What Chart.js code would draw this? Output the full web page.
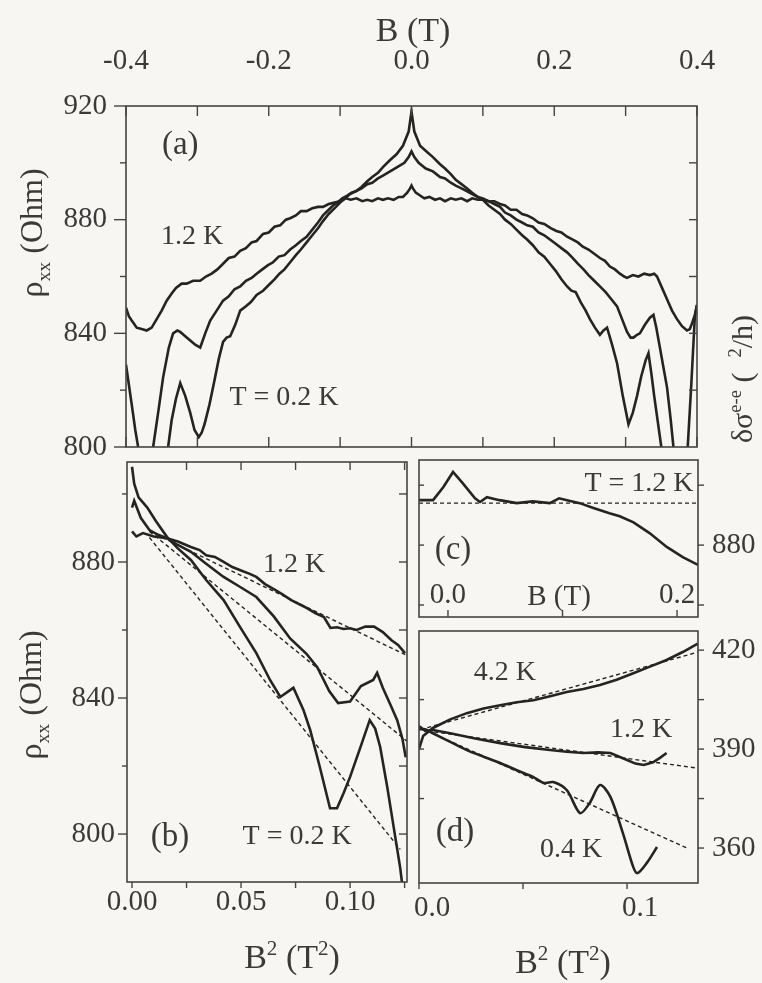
<!DOCTYPE html>
<html>
<head>
<meta charset="utf-8">
<script src="https://cdn.jsdelivr.net/npm/chart.js@4.4.0/dist/chart.umd.min.js"></script>
<style>
  html, body { margin: 0; padding: 0; background: #f7f6f2; }
  #fig { position: relative; width: 762px; height: 983px; }
  #fig canvas { position: absolute; left: 0; top: 0; }
</style>
</head>
<body>
<div id="fig">
  <canvas id="panelA" width="762" height="983"></canvas>
  <canvas id="panelB" width="762" height="983"></canvas>
  <canvas id="panelC" width="762" height="983"></canvas>
  <canvas id="panelD" width="762" height="983"></canvas>
</div>
<script>
// (a) rho_xx (Ohm) against B (T)
const bA12 = [-0.400,-0.396,-0.392,-0.385,-0.378,-0.371,-0.364,-0.357,-0.350,-0.343,-0.336,-0.330,-0.322,-0.315,-0.306,-0.296,-0.288,-0.280,-0.272,-0.264,-0.256,-0.248,-0.240,-0.232,-0.224,-0.217,-0.208,-0.200,-0.192,-0.184,-0.176,-0.170,-0.162,-0.155,-0.147,-0.139,-0.131,-0.124,-0.116,-0.108,-0.100,-0.092,-0.085,-0.077,-0.069,-0.062,-0.055,-0.047,-0.040,-0.033,-0.025,-0.018,-0.012,-0.006,-0.002,0.000,0.002,0.006,0.012,0.018,0.025,0.033,0.040,0.047,0.055,0.062,0.070,0.078,0.085,0.093,0.100,0.108,0.116,0.124,0.131,0.139,0.147,0.155,0.162,0.170,0.178,0.186,0.195,0.203,0.210,0.218,0.226,0.233,0.240,0.248,0.256,0.264,0.271,0.278,0.285,0.292,0.298,0.302,0.310,0.318,0.326,0.334,0.340,0.344,0.351,0.358,0.365,0.372,0.379,0.386,0.390,0.393,0.397,0.400];
const rhoA12 = [849,846,844.5,842,841.5,841,842,845,848,851.5,854,856,857.5,857.5,858.5,858.5,860,861,862.5,864.5,866.5,867,869,870,872,872.5,875,875.5,877.5,878,880,880.5,881.5,883,883,884,884.5,884.5,885.5,886,886.5,887.5,887,887.5,886.5,887,886.5,887.5,887,887.5,887,888,888,889.5,891,892,891,889.5,888.5,887.5,888,887,887.5,886.5,887.5,887,887.5,886.5,887.5,887,887,886.5,886.5,885.5,885,883.5,883.5,882,881.5,880.5,879,878.5,877,876,875.5,874,873,872,870.5,869.5,868,866.5,865.5,863.5,862.5,861,860,859.5,860.5,860,861,860.5,861,860,856,852,848,845,842.5,841,841.5,843.5,846.5,850];
const bA04 = [-0.400,-0.396,-0.392,-0.387,-0.383,-0.375,-0.362,-0.355,-0.348,-0.340,-0.334,-0.328,-0.324,-0.317,-0.310,-0.303,-0.296,-0.289,-0.282,-0.273,-0.264,-0.256,-0.248,-0.240,-0.232,-0.224,-0.217,-0.209,-0.201,-0.194,-0.186,-0.178,-0.170,-0.162,-0.155,-0.147,-0.139,-0.131,-0.124,-0.116,-0.110,-0.104,-0.097,-0.090,-0.084,-0.078,-0.070,-0.062,-0.055,-0.047,-0.040,-0.030,-0.020,-0.010,-0.004,0.000,0.004,0.010,0.020,0.030,0.040,0.047,0.055,0.062,0.070,0.078,0.085,0.093,0.100,0.108,0.116,0.124,0.131,0.139,0.147,0.155,0.162,0.170,0.178,0.186,0.194,0.202,0.210,0.218,0.226,0.233,0.241,0.248,0.256,0.264,0.272,0.280,0.288,0.295,0.302,0.307,0.311,0.316,0.320,0.327,0.334,0.339,0.343,0.348,0.353,0.358,0.363,0.367,0.377,0.387,0.392,0.397,0.400];
const rhoA04 = [829,822,815,806,800,790,800,812,824.5,835,840,841,840.5,839,837.5,836,835,840,844.5,848,851.5,853,855.5,856.5,858.5,859.5,861,862.5,864,865,867,867.5,869.5,871,872.5,874,876.5,879,881.5,883.5,885,886,887.5,888.5,889.5,890,891,892.5,893,894.5,895.5,897,898.5,900,902,904,902,900,898,897,895,894.5,893,892,891,890,889,888,887.5,886.5,885.5,884.5,882.5,881.5,880,879,878,877.5,875.5,874.5,873,871.5,870,868.5,866.5,864.5,862.5,860.5,858.5,856.5,854.5,852,849.5,845,840.5,838.5,838.5,839.5,840,843,845.5,846.5,842,835,828,821,810,800,788,800,822,846,850];
const bA02 = [-0.400,-0.370,-0.350,-0.341,-0.336,-0.330,-0.324,-0.317,-0.310,-0.304,-0.298,-0.294,-0.290,-0.283,-0.276,-0.270,-0.264,-0.259,-0.254,-0.247,-0.240,-0.232,-0.225,-0.217,-0.208,-0.200,-0.192,-0.185,-0.178,-0.170,-0.162,-0.155,-0.147,-0.139,-0.131,-0.124,-0.116,-0.108,-0.100,-0.093,-0.086,-0.078,-0.070,-0.062,-0.055,-0.047,-0.040,-0.030,-0.021,-0.012,-0.004,0.000,0.004,0.012,0.021,0.030,0.040,0.047,0.055,0.062,0.070,0.078,0.085,0.093,0.100,0.108,0.116,0.124,0.131,0.139,0.147,0.155,0.162,0.170,0.178,0.186,0.194,0.202,0.210,0.218,0.224,0.230,0.237,0.244,0.250,0.257,0.264,0.269,0.274,0.281,0.288,0.296,0.304,0.310,0.316,0.322,0.328,0.332,0.336,0.340,0.350,0.370,0.400];
const rhoA02 = [770,782,795,800,809.5,817,822.5,818,812,806,803.5,805,808,815,823.5,831,837,838.5,839,843,848,849.5,851,853.5,855,857,859,861,862.5,865,867.5,869.5,872,874.5,877,879.5,882,884,886,887.5,889,890,891.5,893.5,895,896.5,898.5,901,903,906,911,918,911,906,904,902,899.5,898,896,894,892.5,891,889.5,888,887,885,883.5,882,880,878.5,876.5,874.5,873,871,868.5,867,864.5,862,859,856.5,855,854.5,851,848,845,842,839.5,841,842,836,829.5,818,808,812,818,825,830.5,833,826,818,800,780,770];
const ticksAx = [-0.4, -0.2, 0, 0.2, 0.4];
const ticksAy = [800, 840, 880, 920];

// (b) rho_xx (Ohm) against B^2 (T^2), with straight-line fits
const b2B12 = [0.000,0.002,0.005,0.010,0.016,0.021,0.027,0.031,0.034,0.038,0.042,0.046,0.050,0.054,0.057,0.061,0.065,0.069,0.073,0.077,0.080,0.084,0.088,0.091,0.094,0.097,0.100,0.103,0.107,0.111,0.115,0.119,0.122,0.1252];
const rhoB12 = [889,887.5,888.5,887.5,887,886,884.4,883.5,882,881.5,880,878.5,877.5,876.5,875.6,873.5,872,870.5,868.8,867.5,866.5,865,863.8,860.6,860.8,860.3,860.5,860,861,861,859.4,857,855.6,853.2];
const b2B04 = [0.000,0.001,0.004,0.008,0.012,0.016,0.021,0.027,0.034,0.042,0.050,0.057,0.065,0.0725,0.080,0.085,0.0905,0.0945,0.100,0.105,0.1106,0.1124,0.115,0.1185,0.1216,0.124,0.1255];
const rhoB04 = [896,898,893,889.4,888,887,885,883,879.5,875.6,872.5,869.7,864,857.5,853,849,842,838.5,839,843.5,845.3,847.4,843,838,833.5,828,822.6];
const b2B02 = [0.000,0.001,0.003,0.007,0.011,0.016,0.021,0.027,0.034,0.042,0.0495,0.057,0.0633,0.068,0.074,0.0786,0.0817,0.086,0.0908,0.094,0.097,0.100,0.105,0.109,0.1115,0.1138,0.117,0.119,0.121,0.123,0.1245];
const rhoB02 = [908,903,899,896,892,887.4,884,880.6,874.7,868.8,860.9,853.2,845.3,840.3,843,836.5,830.6,820,807.6,807.6,812,816.8,826,833.5,831,825.6,814,806,798,790,782];
const fitB12x = [0.008, 0.1261], fitB12y = [889, 852.5];
const fitB04x = [0.008, 0.1261], fitB04y = [889, 827.3];
const fitB02x = [0.008, 0.123], fitB02y = [887.2, 795.5];
const ticksBx = [0, 0.05, 0.1];
const ticksBy = [800, 840, 880];

// (c) low-field detail at T = 1.2 K
const bC = [-0.0253,-0.013,-0.004,0.0044,0.013,0.0236,0.028,0.034,0.045,0.060,0.074,0.089,0.097,0.104,0.115,0.127,0.141,0.150,0.162,0.176,0.191,0.205,0.2183];
const rhoC = [887.5,887.5,889.7,892.2,890.3,887.8,887.2,888,887.5,887,887.3,887,887.8,887.5,887,886.2,885.3,884.8,883.8,882,879.7,878,876.7];
const fitCx = [-0.0253, 0.2183], fitCy = [887, 887];
const ticksCx = [0, 0.2];
const ticksCy = [880];

// (d) delta sigma e-e against B^2
const b2D42 = [0.000,0.002,0.0067,0.015,0.023,0.031,0.039,0.047,0.055,0.063,0.071,0.079,0.087,0.095,0.103,0.111,0.119,0.127,0.134];
const sigD42 = [390,394,396.4,399,400.9,402.3,403.3,404.2,404.8,406,407.3,408.2,409.4,411,413,415,417,419.5,422];
const b2D12 = [0.000,0.003,0.0067,0.015,0.027,0.039,0.051,0.063,0.071,0.079,0.086,0.092,0.100,0.104,0.108,0.1125,0.116,0.119];
const sigD12 = [397,395.5,395.8,394.8,393.2,391.8,390.6,389.7,389.2,388.8,389,388.8,386.7,385.6,385.2,386,387.4,388.8];
const b2D04 = [0.000,0.003,0.0067,0.015,0.023,0.031,0.039,0.047,0.055,0.060,0.0645,0.071,0.0774,0.082,0.087,0.092,0.098,0.103,0.105,0.1095,0.1144];
const sigD04 = [396,396,394.8,392.2,389.7,387.7,385.8,383.6,381.5,379.7,380,377.6,370.6,373.6,379.1,375.5,364.5,354.2,352.4,355.5,360.3];
const fitD42x = [0.004, 0.1341], fitD42y = [396.5, 419.4];
const fitD12x = [0.004, 0.1341], fitD12y = [395.5, 384.2];
const fitD04x = [0.004, 0.1288], fitD04y = [395.5, 360];
const ticksDx = [0, 0.1];
const ticksDy = [360, 390, 420];

const ink = '#242424';
const textInk = '#3a3a3a';
const serif = '"Liberation Serif", "Times New Roman", serif';
Chart.defaults.font.family = serif;
Chart.defaults.color = textInk;

const pts = (xs, ys) => xs.map((x, i) => ({ x, y: ys[i] }));
const trace = (label, xs, ys, extra) => ({
  label, data: pts(xs, ys), showLine: true, borderColor: ink,
  borderWidth: 2.6, pointRadius: 0, tension: 0, ...extra
});
const fit = (label, xs, ys) => trace(label, xs, ys, { borderWidth: 1.4, borderDash: [4, 3] });

const step = (from, to, d) => {
  const out = [];
  for (let v = from; v <= to + d / 2; v += d) out.push(+v.toFixed(4));
  return out;
};

function axis(o) {
  return {
    type: 'linear', position: o.position, min: o.min, max: o.max,
    afterFit: s => {
      if (o.size == null) return;
      if (s.isHorizontal()) s.height = o.size; else s.width = o.size;
    },
    afterBuildTicks: s => { s.ticks = o.labels.map(v => ({ value: v })); },
    ticks: {
      callback: o.fmt, padding: o.padding, autoSkip: false, maxRotation: 0,
      labelOffset: o.offset || 0, font: { size: o.font || 29 }, color: textInk
    },
    grid: { display: false, drawTicks: false },
    border: { display: false }
  };
}

// rich text: runs of {t, sub, sup}, centred on (x, y)
function drawRuns(ctx, runs, x, y, size, rot) {
  ctx.save();
  ctx.translate(x, y);
  ctx.rotate(rot || 0);
  ctx.textAlign = 'left';
  ctx.textBaseline = 'alphabetic';
  ctx.fillStyle = textInk;
  const parts = runs.map(r => {
    const s = (r.sub || r.sup) ? size * 0.62 : size;
    ctx.font = `${s}px ${serif}`;
    return { r, s, w: ctx.measureText(r.t).width };
  });
  let cx = -parts.reduce((a, p) => a + p.w, 0) / 2;
  parts.forEach(p => {
    ctx.font = `${p.s}px ${serif}`;
    const dy = p.r.sub ? size * 0.25 : p.r.sup ? -size * 0.38 : 0;
    ctx.fillText(p.r.t, cx, size * 0.33 + dy);
    cx += p.w;
  });
  ctx.restore();
}

// frame, tick marks, in-plot notes and axis titles for one panel
function decor(cfg) {
  return {
    id: 'decor',
    afterDraw(chart) {
      const { ctx, chartArea: a } = chart;
      ctx.save();
      ctx.strokeStyle = '#444';
      ctx.lineWidth = 1.6;
      ctx.strokeRect(a.left, a.top, a.right - a.left, a.bottom - a.top);
      ctx.lineWidth = 1.4;
      (cfg.marks || []).forEach(m => {
        const s = chart.scales[m.scale];
        m.values.forEach(v => {
          const p = s.getPixelForValue(v);
          ctx.beginPath();
          if (m.side === 'top') { ctx.moveTo(p, a.top); ctx.lineTo(p, a.top + m.len); }
          else if (m.side === 'bottom') { ctx.moveTo(p, a.bottom); ctx.lineTo(p, a.bottom - m.len); }
          else if (m.side === 'left') { ctx.moveTo(a.left, p); ctx.lineTo(a.left + m.len, p); }
          else { ctx.moveTo(a.right, p); ctx.lineTo(a.right - m.len, p); }
          ctx.stroke();
        });
      });
      ctx.fillStyle = textInk;
      ctx.textAlign = 'center';
      ctx.textBaseline = 'middle';
      (cfg.notes || []).forEach(n => {
        ctx.font = `${n.size || 28}px ${serif}`;
        ctx.fillText(n.t, chart.scales.x.getPixelForValue(n.x), chart.scales.y.getPixelForValue(n.y));
      });
      ctx.restore();
      (cfg.titles || []).forEach(t => drawRuns(ctx, t.runs, t.x, t.y, t.size, t.rot));
    }
  };
}

function panel(id, datasets, scales, padding, cfg) {
  return new Chart(document.getElementById(id), {
    type: 'scatter',
    data: { datasets },
    options: {
      responsive: false, animation: false, devicePixelRatio: 1,
      layout: { padding },
      plugins: { legend: { display: false }, tooltip: { enabled: false } },
      scales
    },
    plugins: [decor(cfg)]
  });
}

const rhoTitle = [{ t: 'ρ' }, { t: 'xx', sub: true }, { t: ' (Ohm)' }];
const b2Title = [{ t: 'B' }, { t: '2', sup: true }, { t: ' (T' }, { t: '2', sup: true }, { t: ')' }];
const up = -Math.PI / 2;

panel('panelA', [
  trace('1.2 K', bA12, rhoA12),
  trace('0.4 K', bA04, rhoA04),
  trace('0.2 K', bA02, rhoA02)
], {
  x: axis({ position: 'top', min: -0.4, max: 0.4, labels: ticksAx, fmt: v => v.toFixed(1), size: 80, padding: 27 }),
  y: axis({ position: 'left', min: 800, max: 920, labels: ticksAy, fmt: v => String(v), size: 90, padding: 19 })
}, { left: 36, top: 26, right: 65, bottom: 536 }, {
  marks: [
    { scale: 'x', side: 'top', values: step(-0.4, 0.4, 0.1), len: 10 },
    { scale: 'x', side: 'bottom', values: step(-0.4, 0.4, 0.1), len: 10 },
    { scale: 'y', side: 'left', values: ticksAy, len: -12 },
    { scale: 'y', side: 'left', values: [820, 860, 900], len: -6 },
    { scale: 'y', side: 'right', values: step(820, 900, 20), len: 8 }
  ],
  notes: [
    { t: '(a)', x: -0.324, y: 906.3, size: 33 },
    { t: '1.2 K', x: -0.3075, y: 873.9 },
    { t: 'T = 0.2 K', x: -0.1786, y: 817.3 }
  ],
  titles: [
    { runs: [{ t: 'B (T)' }], x: 413, y: 30, size: 34 },
    { runs: rhoTitle, x: 31, y: 233, size: 32, rot: up }
  ]
});

panel('panelB', [
  fit('fit 1.2 K', fitB12x, fitB12y),
  fit('fit 0.4 K', fitB04x, fitB04y),
  fit('fit 0.2 K', fitB02x, fitB02y),
  trace('1.2 K', b2B12, rhoB12),
  trace('0.4 K', b2B04, rhoB04),
  trace('0.2 K', b2B02, rhoB02)
], {
  x: axis({ position: 'bottom', min: -0.0023, max: 0.1261, labels: ticksBx, fmt: v => v.toFixed(2), size: 60, padding: 3 }),
  y: axis({ position: 'left', min: 785.9, max: 909.4, labels: ticksBy, fmt: v => String(v), size: 90, padding: 12 })
}, { left: 37, top: 462, right: 355, bottom: 41 }, {
  marks: [
    { scale: 'x', side: 'top', values: step(0.025, 0.125, 0.025), len: 8 },
    { scale: 'x', side: 'bottom', values: step(0, 0.125, 0.025), len: -6 },
    { scale: 'y', side: 'left', values: ticksBy, len: -9 },
    { scale: 'y', side: 'left', values: [820, 860, 900], len: -5 },
    { scale: 'y', side: 'right', values: step(800, 900, 20), len: 8 }
  ],
  notes: [
    { t: '1.2 K', x: 0.0743, y: 879.1 },
    { t: '(b)', x: 0.0174, y: 799.1, size: 33 },
    { t: 'T = 0.2 K', x: 0.0757, y: 799.1 }
  ],
  titles: [
    { runs: rhoTitle, x: 30, y: 695, size: 32, rot: up },
    { runs: b2Title, x: 292, y: 957, size: 34 }
  ]
});

panel('panelC', [
  fit('zero line', fitCx, fitCy),
  trace('1.2 K', bC, rhoC)
], {
  x: axis({ position: { y: 868 }, min: -0.0253, max: 0.2183, labels: ticksCx, fmt: v => v.toFixed(1), padding: -39 }),
  y: axis({ position: 'right', min: 868, max: 894.2, labels: ticksCy, fmt: v => String(v), size: 64, padding: 14 })
}, { left: 419, top: 460, right: 0, bottom: 366 }, {
  marks: [
    { scale: 'x', side: 'bottom', values: [0, 0.1, 0.2], len: 7 },
    { scale: 'y', side: 'right', values: [870, 880, 890], len: -6 },
    { scale: 'y', side: 'left', values: [870, 880, 890], len: 5 }
  ],
  notes: [
    { t: 'T = 1.2 K', x: 0.1668, y: 890.3 },
    { t: '(c)', x: 0.0044, y: 879.2, size: 33 }
  ],
  titles: [
    { runs: [{ t: 'B (T)' }], x: 559, y: 595, size: 29 },
    { runs: [{ t: 'δσ' }, { t: 'e-e', sup: true }, { t: ' (  ' }, { t: '2', sup: true }, { t: '/h)' }], x: 742, y: 379, size: 30, rot: up }
  ]
});

panel('panelD', [
  fit('fit 4.2 K', fitD42x, fitD42y),
  fit('fit 1.2 K', fitD12x, fitD12y),
  fit('fit 0.4 K', fitD04x, fitD04y),
  trace('4.2 K', b2D42, sigD42),
  trace('1.2 K', b2D12, sigD12),
  trace('0.4 K', b2D04, sigD04, { tension: 0.3 })
], {
  x: axis({ position: 'bottom', min: 0, max: 0.1341, labels: ticksDx, fmt: v => v.toFixed(1), size: 60, padding: 8, offset: 13 }),
  y: axis({ position: 'right', min: 349.4, max: 425.8, labels: ticksDy, fmt: v => String(v), size: 64, padding: 14 })
}, { left: 419, top: 631, right: 0, bottom: 40 }, {
  marks: [
    { scale: 'x', side: 'bottom', values: [0, 0.05, 0.1], len: -6 },
    { scale: 'y', side: 'right', values: step(360, 420, 15), len: -6 },
    { scale: 'y', side: 'left', values: [375, 390, 405], len: 5 }
  ],
  notes: [
    { t: '4.2 K', x: 0.0413, y: 413.3 },
    { t: '1.2 K', x: 0.1067, y: 395.8 },
    { t: '(d)', x: 0.0173, y: 364.8, size: 33 },
    { t: '0.4 K', x: 0.0731, y: 359.4 }
  ],
  titles: [
    { runs: b2Title, x: 563, y: 962, size: 34 }
  ]
});
</script>
</body>
</html>
